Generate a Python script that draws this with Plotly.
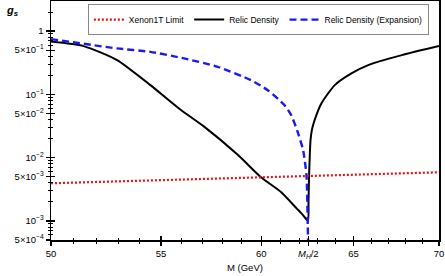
import math
import plotly.graph_objects as go

# ---- data ----
mass_xenon = [50, 55, 60, 65, 70]
g_xenon = [3.94e-3, 4.41e-3, 4.89e-3, 5.37e-3, 5.87e-3]

mass_relic = [50.0, 51.43, 52.95, 54.5, 55.95, 57.1, 58.79, 59.99, 61.05, 61.87, 62.2,
              62.48, 62.51, 62.54, 62.58, 62.62, 62.70, 62.84, 63.21, 63.95, 64.88,
              65.83, 67.78, 70.0]
g_relic = [0.682, 0.579, 0.348, 0.140, 0.0571, 0.0309, 0.0111, 0.0049, 0.00284, 0.00158,
           0.00125, 1.0e-3, 2.0e-3, 5.0e-3, 0.011, 0.019, 0.028, 0.039, 0.0718, 0.140,
           0.214, 0.290, 0.417, 0.58]

mass_expansion = [50.0, 52.95, 54.5, 56.11, 57.78, 59.47, 60.34, 61.22, 61.58, 61.91,
                  62.22, 62.40, 62.47, 62.50]
g_expansion = [0.747, 0.532, 0.470, 0.370, 0.272, 0.1677, 0.1165, 0.0675, 0.0469, 0.0262,
               0.0131, 0.00527, 8.3e-4, 3.0e-4]

x_tick_vals = [50, 55, 60, 62.5, 65, 70]
x_tick_text = ["50", "55", "60", "<i>M<sub>H</sub></i>/2", "65", "70"]
x_minor_vals = [51, 52, 53, 54, 56, 57, 58, 59, 61, 62, 63, 64, 66, 67, 68, 69]

y_tick_vals = [1, 0.5, 0.1, 0.05, 0.01, 0.005, 0.001, 0.0005]
y_tick_text = ["1", "5×10<sup>−1</sup>", "10<sup>−1</sup>", "5×10<sup>−2</sup>",
               "10<sup>−2</sup>", "5×10<sup>−3</sup>", "10<sup>−3</sup>", "5×10<sup>−4</sup>"]

x_range = [math.log10(50), math.log10(70)]
y_range = [math.log10(5e-4), 0.475]

y_minor_vals = [m * 10.0 ** e for e in range(-4, 1) for m in range(2, 10)
                if m != 5 and y_range[0] < math.log10(m * 10.0 ** e) < y_range[1]]

FONT = "Liberation Sans, Arial, sans-serif"

fig = go.Figure()
fig.add_trace(go.Scatter(x=mass_xenon, y=g_xenon, mode="lines", name="Xenon1T Limit",
                         line=dict(color="#ee1111", width=2.2, dash="2px,2px"),
                         xaxis="x2", yaxis="y2"))
fig.add_trace(go.Scatter(x=mass_relic, y=g_relic, mode="lines", name="Relic Density",
                         line=dict(color="black", width=2, shape="spline", smoothing=0.6)))
fig.add_trace(go.Scatter(x=mass_expansion, y=g_expansion, mode="lines",
                         name="Relic Density (Expansion)",
                         line=dict(color="#1a1aee", width=2.4, dash="7px,4px",
                                   shape="spline", smoothing=0.6)))

common_x = dict(type="log", range=x_range, tickmode="array", tickvals=x_tick_vals,
                showgrid=False, zeroline=False, tickcolor="black", tickwidth=1.2,
                automargin=False)
common_y = dict(type="log", range=y_range, tickmode="array", tickvals=y_tick_vals,
                showgrid=False, zeroline=False, tickcolor="black", tickwidth=1.2,
                automargin=False)

fig.update_layout(
    width=445, height=276,
    margin=dict(l=51, r=6, t=1, b=36, autoexpand=False),
    paper_bgcolor="white", plot_bgcolor="white",
    font=dict(family=FONT, size=10, color="black"),
    showlegend=True,
    hovermode=False,
    xaxis=dict(**common_x, ticktext=x_tick_text, ticks="outside", ticklen=4,
               showline=True, linecolor="black", linewidth=1.5, mirror=True,
               minor=dict(tickvals=x_minor_vals, ticks="outside", ticklen=2,
                          tickcolor="black", tickwidth=1),
               tickfont=dict(size=9.5, family=FONT)),
    yaxis=dict(**common_y, ticktext=y_tick_text, ticks="outside", ticklen=4,
               showline=True, linecolor="black", linewidth=1.5, mirror=True,
               minor=dict(tickvals=y_minor_vals, ticks="outside", ticklen=2,
                          tickcolor="black", tickwidth=1),
               tickfont=dict(size=9.5, family=FONT)),
    xaxis2=dict(**common_x, overlaying="x", anchor="y2", side="bottom",
                ticks="inside", ticklen=4, showticklabels=False, showline=False,
                minor=dict(tickvals=x_minor_vals, ticks="inside", ticklen=2,
                           tickcolor="black", tickwidth=1)),
    yaxis2=dict(**common_y, overlaying="y", anchor="x2", side="left",
                ticks="inside", ticklen=4, showticklabels=False, showline=False,
                minor=dict(tickvals=y_minor_vals, ticks="inside", ticklen=2,
                           tickcolor="black", tickwidth=1)),
    legend=dict(orientation="h", x=0.095, y=0.987, xanchor="left", yanchor="top",
                bgcolor="white", bordercolor="#888888", borderwidth=1,
                font=dict(size=8.5, family=FONT), itemwidth=30,
                traceorder="normal"),
    annotations=[
        dict(text="<b><i>g<sub>s</sub></i></b>", xref="paper", yref="paper",
             x=-0.10, y=0.958, xanchor="center", yanchor="middle",
             showarrow=False, font=dict(size=11, family=FONT)),
        dict(text="M (GeV)", xref="paper", yref="paper",
             x=0.5, y=-0.117, xanchor="center", yanchor="middle",
             showarrow=False, font=dict(size=9.5, family=FONT)),
    ],
)

fig.write_html("out.html",
               config={"displayModeBar": False, "staticPlot": True},
               post_script="document.body.style.margin='0px';"
                           "document.body.style.overflow='hidden';")
